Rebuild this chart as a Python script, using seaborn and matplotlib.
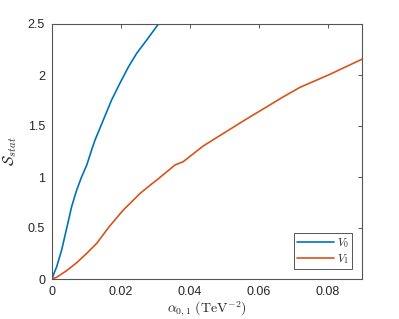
import numpy as np
import pandas as pd
import matplotlib
matplotlib.use("Agg")
import matplotlib.pyplot as plt
import seaborn as sns

# values
v0_x = [0, 0.00058, 0.00136, 0.0028, 0.00426, 0.0057, 0.00717, 0.00862, 0.0101, 0.0115,
        0.0125, 0.0149, 0.0173, 0.0197, 0.0222, 0.0246, 0.0275, 0.0309]
v0_y = [0, 0.056, 0.12, 0.284, 0.497, 0.709, 0.873, 1.003, 1.118, 1.265,
        1.363, 1.559, 1.755, 1.918, 2.08, 2.213, 2.343, 2.5]

v1_x = [0, 0.00136, 0.00426, 0.00717, 0.0101, 0.013, 0.0166, 0.0207, 0.0256, 0.0285, 0.0304,
        0.0343, 0.0357, 0.0381, 0.0439, 0.056, 0.0672, 0.072, 0.0807, 0.09]
v1_y = [0, 0.017, 0.082, 0.16, 0.252, 0.35, 0.513, 0.676, 0.84, 0.92, 0.97,
        1.078, 1.118, 1.15, 1.304, 1.559, 1.787, 1.879, 2.007, 2.155]

x_ticks = [0, 0.02, 0.04, 0.06, 0.08]
x_labels = ["0", "0.02", "0.04", "0.06", "0.08"]
y_ticks = [0, 0.5, 1, 1.5, 2, 2.5]
y_labels = ["0", "0.5", "1", "1.5", "2", "2.5"]

df = pd.concat([
    pd.DataFrame({"alpha": v0_x, "S": v0_y, "series": "$V_0$"}),
    pd.DataFrame({"alpha": v1_x, "S": v1_y, "series": "$V_1$"}),
])

sns.set_style("white")
plt.rcParams["font.family"] = ["Liberation Sans", "DejaVu Sans"]
plt.rcParams["mathtext.fontset"] = "cm"

fig = plt.figure(figsize=(3.99, 3.19), dpi=100)
ax = fig.add_axes([52 / 399, 40 / 319, 310 / 399, 255 / 319])

sns.lineplot(data=df, x="alpha", y="S", hue="series", sort=False,
             palette=["#0072BD", "#D95319"], linewidth=1.2, ax=ax)

ax.set_xlim(0, 0.09)
ax.set_ylim(0, 2.5)
ax.set_xticks(x_ticks)
ax.set_xticklabels(x_labels)
ax.set_yticks(y_ticks)
ax.set_yticklabels(y_labels)
ax.tick_params(direction="in", length=3, width=0.7, color="#555555",
               labelcolor="#262626", labelsize=9, top=True, right=True, pad=5)
for s in ax.spines.values():
    s.set_visible(True)
    s.set_color("#555555")
    s.set_linewidth(0.8)

ax.set_xlabel(r"$\alpha_{0,1}\ (\mathrm{TeV}^{-2})$", fontsize=10, labelpad=1)
ax.set_ylabel(r"$\mathcal{S}_{stat}$", fontsize=11, labelpad=6)

leg = ax.legend(loc="lower right", fancybox=False, framealpha=1, edgecolor="#555555",
                fontsize=8, handlelength=3.3, borderpad=0.25, labelspacing=0.2,
                handletextpad=0.3, borderaxespad=0.9)
leg.get_frame().set_linewidth(0.7)
leg.set_title(None)

fig.savefig("out.png", dpi=100)
